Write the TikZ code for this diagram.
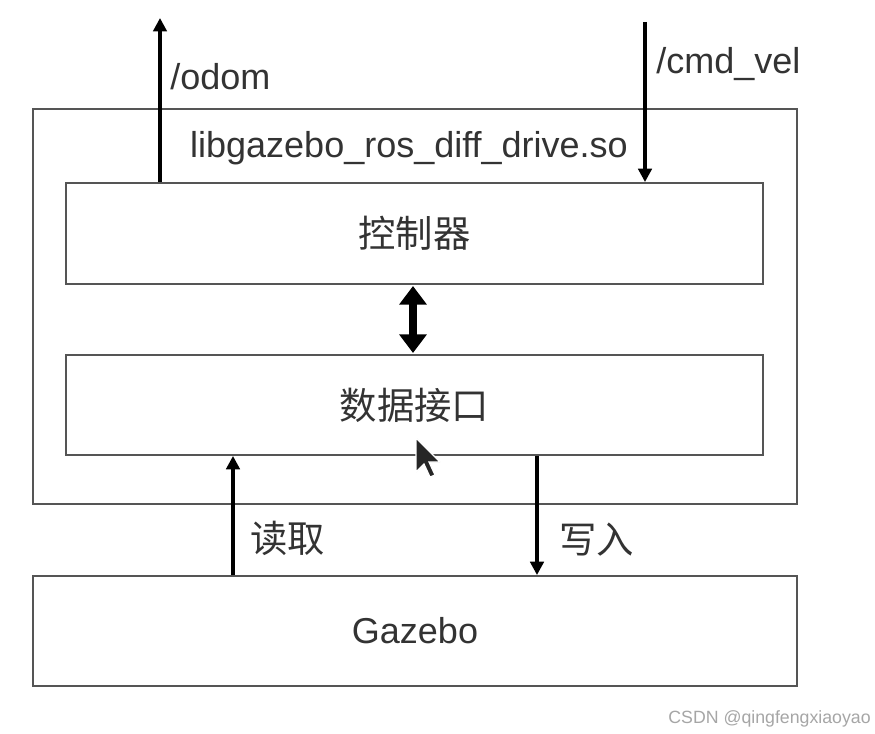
\documentclass[tikz,border=0pt]{standalone}
\usepackage{fontspec}
\setmainfont{Liberation Sans}
\newfontfamily\cjk{Noto Sans CJK SC}
\usetikzlibrary{arrows.meta}
\definecolor{boxline}{HTML}{555555}
\definecolor{txt}{HTML}{333333}
\begin{document}
\begin{tikzpicture}[x=0.75pt,y=-0.75pt,
  boxstyle/.style={draw=boxline,line width=1.4pt,inner sep=0pt},
  lbl/.style={text=txt,font=\fontsize{27}{30}\selectfont,inner sep=0pt},
  cjklbl/.style={text=txt,font=\cjk\fontsize{28}{32}\selectfont,inner sep=0pt},
  arr/.style={line width=2.6pt,-{Triangle[length=10pt,width=10pt]}},
  dblarr/.style={line width=5.5pt,{Triangle[length=14pt,width=20pt]}-{Triangle[length=14pt,width=20pt]}}]
\useasboundingbox[fill=white] (0,0) rectangle (875,734);
% boxes
\draw[boxstyle] (33,109) rectangle (797,504);
\node[boxstyle,minimum width=697*0.75pt,minimum height=101*0.75pt] (ctrl) at (414.5,233.5) {};
\node[boxstyle,minimum width=697*0.75pt,minimum height=100*0.75pt] (data) at (414.5,405) {};
\node[boxstyle,minimum width=764*0.75pt,minimum height=110*0.75pt] (gz) at (415,631) {};
% texts
\node[cjklbl] at (ctrl.center) {控制器};
\node[cjklbl] at (data.center) {数据接口};
\node[lbl] at (gz.center) {Gazebo};
\node[lbl] (lib) at (409,148) {libgazebo\_ros\_diff\_drive.so};
\node[lbl,anchor=west] (odom) at (170,77) {/odom};
\node[lbl,anchor=west] (cmd) at (656,64) {/cmd\_vel};
\node[cjklbl,anchor=west] (rd) at (250,538) {读取};
\node[cjklbl,anchor=west] (wr) at (559,540) {写入};
% arrows
\coordinate (odomtop) at (160,18);
\coordinate (cmdtop) at (645,22);
\draw[arr] (ctrl.north -| odomtop) -- (odomtop);
\draw[arr] (cmdtop) -- (ctrl.north -| cmdtop);
\draw[dblarr] (413,286) -- (413,353);
\coordinate (rx) at (233,0);
\coordinate (wx) at (537,0);
\draw[arr] (gz.north -| rx) -- (data.south -| rx);
\draw[arr] (data.south -| wx) -- (gz.north -| wx);
% mouse cursor
\filldraw[fill=black!85,draw=white,line width=0.9pt] (416,438) -- (416,472) -- (424,464) -- (430,477) -- (435,475) -- (429,462) -- (440,462) -- cycle;
% watermark
\node[text=black!35,font=\fontsize{13.3}{15}\selectfont,anchor=east,inner sep=0pt] (wm) at (871,719) {CSDN @qingfengxiaoyao};
\end{tikzpicture}
\end{document}
